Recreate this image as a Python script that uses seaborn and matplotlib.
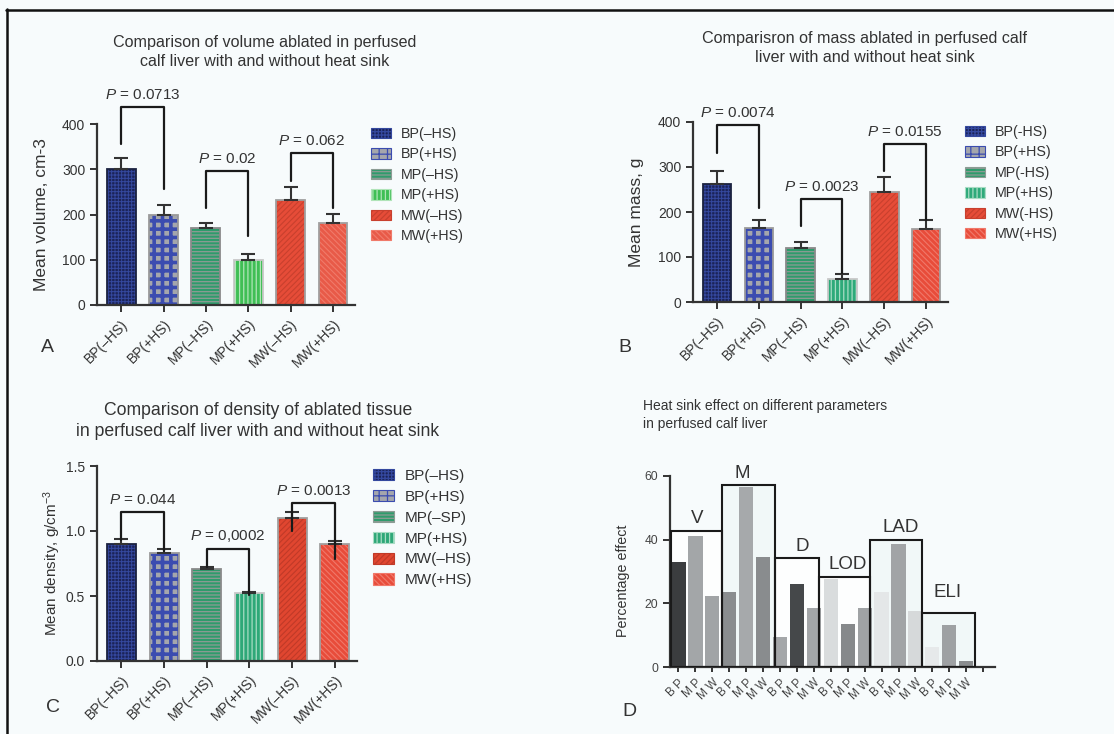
import seaborn as sns
import matplotlib.pyplot as plt
import numpy as np
from matplotlib.patches import Patch, Rectangle
from matplotlib.lines import Line2D

sns.set_theme(style='white')
plt.rcParams['font.family'] = ['Liberation Sans', 'DejaVu Sans']
plt.rcParams['mathtext.fontset'] = 'custom'
plt.rcParams['mathtext.rm'] = 'Liberation Sans'
plt.rcParams['mathtext.it'] = 'Liberation Sans:italic'
plt.rcParams['hatch.linewidth'] = 0.9

W, H = 1114, 734
BG = '#f7fbfc'
TXT = '#333333'

# ---- data, panels A-C ----
groups = ['BP(–HS)', 'BP(+HS)', 'MP(–HS)', 'MP(+HS)', 'MW(–HS)', 'MW(+HS)']
legend_a = ['BP(–HS)', 'BP(+HS)', 'MP(–HS)', 'MP(+HS)', 'MW(–HS)', 'MW(+HS)']
legend_b = ['BP(-HS)', 'BP(+HS)', 'MP(-HS)', 'MP(+HS)', 'MW(-HS)', 'MW(+HS)']
legend_c = ['BP(–HS)', 'BP(+HS)', 'MP(–SP)', 'MP(+HS)', 'MW(–HS)', 'MW(+HS)']

vol_mean = [300, 200, 170, 100, 232, 181]
vol_err = [25, 22, 12, 12, 28, 21]
mass_mean = [262, 164, 120, 51, 244, 162]
mass_err = [29, 18, 13, 11, 34, 20]
dens_mean = [0.90, 0.83, 0.71, 0.52, 1.10, 0.90]
dens_err = [0.035, 0.03, 0.012, 0.012, 0.045, 0.02]

# p-value brackets: pairs of bars, bracket top, left/right leg ends, label
p_pairs = [(0, 1), (2, 3), (4, 5)]
vol_p = ['0.0713', '0.02', '0.062']
vol_top = [437, 296, 336]
vol_leg = [(356, 256), (214, 152), (274, 214)]
mass_p = ['0.0074', '0.0023', '0.0155']
mass_top = [393, 229, 351]
mass_leg = [(331, 209), (169, 64), (291, 182)]
dens_p = ['0.044', '0,0002', '0.0013']
dens_top = [1.146, 0.86, 1.215]
dens_leg = [(0.93, 0.85), (0.72, 0.51), (1.0, 0.785)]

# ---- data, panel D ----
d_params = ['V', 'M', 'D', 'LOD', 'LAD', 'ELI']
d_methods = ['B P', 'M P', 'M W']
d_effect = [33.0, 41.3, 22.4, 23.5, 56.6, 34.5, 9.5, 26.2, 18.5,
            27.5, 13.5, 18.5, 23.5, 38.6, 17.6, 6.4, 13.3, 1.8]
d_grays = ['#3b3d3f', '#a3a6a8', '#a1a4a6', '#8a8d8f', '#a6a9ab', '#898c8e',
           '#a4a7a9', '#45484a', '#a3a6a8', '#d9dcdd', '#86898b', '#a0a3a5',
           '#e4e7e8', '#a1a4a6', '#d6d9da', '#e6e9ea', '#9ea1a3', '#8a8d8f']
d_box_top = [42.8, 57.3, 34.2, 28.4, 39.9, 16.9]
d_box_edge = [-0.45, 2.6, 5.7, 8.3, 11.3, 14.4, 17.5]
d_box_fill = ['#fdfefe', '#f1f8f8', '#fdfefe', '#fdfefe', '#f1f8f8', '#f1f8f8']
d_label_x = [1.08, 3.74, 7.3, 10.0, 13.1, 15.9]
d_label_y = [44.1, 58.2, 35.2, 29.5, 41.3, 20.6]

# bar styles: face, hatch, hatch colour, edge colour, hatch width
style_a = [('#1b2358', '+++++', '#34489e', '#1b2240', 0.7),
           ('#a4a6ac', '++', '#3b4cb0', '#9a9a9a', 2.6),
           ('#2f9b6c', '-----', '#8c9c94', '#8a8a8a', 0.9),
           ('#3fbf55', '||||', '#b0e4b8', '#c8c8c8', 0.9),
           ('#e64c38', '//////', '#c8402e', '#a0a0a0', 0.8),
           ('#e85a48', '\\\\\\\\\\\\', '#f07a6a', '#a0a0a0', 0.8)]
style_b = list(style_a)
style_b[3] = ('#2eaa7a', '||||', '#a8dcc4', '#c8c8c8', 0.9)
style_b[5] = ('#e84c3a', '\\\\\\\\\\\\', '#f0786a', '#a0a0a0', 0.8)
style_c = list(style_b)
style_c[3] = ('#2ea878', '||||', '#a8dcc4', '#c8c8c8', 0.9)
style_c[4] = ('#e04630', '//////', '#c03a28', '#a0a0a0', 0.8)


def px_box(l, t, r, b):
    return [l / W, 1 - b / H, (r - l) / W, (b - t) / H]


def set_hatch_width(p, w):
    if hasattr(p, 'set_hatch_linewidth'):
        p.set_hatch_linewidth(w)


def style_axis(ax):
    ax.set_facecolor('none')
    sns.despine(ax=ax)
    for s in ['left', 'bottom']:
        ax.spines[s].set_color(TXT)
        ax.spines[s].set_linewidth(1.6)
    ax.tick_params(axis='both', direction='out', length=5, width=1.4,
                   color=TXT, labelcolor=TXT, bottom=True, left=True)


def bar_panel(ax, means, errs, styles, ylim, yticks, ptext, ptop, pleg, legend_labels,
              leg_xy, leg_fs, tick_fs=10):
    sns.barplot(x=groups, y=means, hue=groups, palette=[s[0] for s in styles],
                legend=False, ax=ax, width=0.68, saturation=1, linewidth=0)
    for p, s in zip(ax.patches, styles):
        p.set_hatch(s[1])
        p.set_edgecolor(s[2])
        p.set_linewidth(0)
        set_hatch_width(p, s[4])
        ax.add_patch(Rectangle(p.get_xy(), p.get_width(), p.get_height(),
                               fill=False, edgecolor=s[3], lw=1.3, zorder=2))
    ax.errorbar(x=np.arange(len(means)), y=means,
                yerr=[np.zeros(len(means)), errs], fmt='none',
                ecolor=TXT, elinewidth=1.5, capsize=4.7, capthick=1.5, zorder=3)
    style_axis(ax)
    ax.set_ylim(*ylim)
    ax.set_yticks(yticks)
    ax.set_xlim(-0.57, 5.52)
    ax.set_xlabel('')
    ax.set_ylabel('')
    ax.tick_params(axis='y', labelsize=10)
    ax.set_xticks(range(len(groups)))
    ax.set_xticklabels(groups, rotation=45, ha='right', rotation_mode='anchor',
                       fontsize=tick_fs)
    for (i, j), lab, top, (l0, l1) in zip(p_pairs, ptext, ptop, pleg):
        ax.plot([i, i, j, j], [l0, top, top, l1], color='#1a1a1a', lw=1.6,
                clip_on=False, zorder=4)
        ax.annotate('$P$ = ' + lab, xy=((i + j) / 2, top), xytext=(0, 3.5),
                    textcoords='offset points', ha='center', va='bottom',
                    fontsize=11, color=TXT, annotation_clip=False)
    handles = []
    for s in styles:
        h = Patch(facecolor=s[0], hatch=s[1], edgecolor=s[2], lw=0.8)
        set_hatch_width(h, s[4])
        handles.append(h)
    ax.legend(handles, legend_labels, loc='upper left',
              bbox_to_anchor=(leg_xy[0] / W, 1 - leg_xy[1] / H),
              bbox_transform=ax.figure.transFigure, frameon=False,
              fontsize=leg_fs, handlelength=1.4, handleheight=0.75,
              handletextpad=0.7, labelspacing=0.45, borderpad=0, borderaxespad=0,
              labelcolor=TXT)


fig = plt.figure(figsize=(W / 100, H / 100), dpi=100, facecolor=BG)

# ---- A ----
axA = fig.add_axes(px_box(97, 124, 355, 305))
bar_panel(axA, vol_mean, vol_err, style_a, (0, 400), [0, 100, 200, 300, 400],
          vol_p, vol_top, vol_leg, legend_a, (371, 127), 10.3)
fig.text(265 / W, 1 - 52 / H, 'Comparison of volume ablated in perfused\ncalf liver with and without heat sink',
         ha='center', va='center', fontsize=11.6, color=TXT, linespacing=1.25)
fig.text(42 / W, 1 - 215 / H, 'Mean volume, cm-3', rotation=90, ha='center', va='center',
         fontsize=12.5, color=TXT)

# ---- B ----
axB = fig.add_axes(px_box(693, 122, 948, 302))
bar_panel(axB, mass_mean, mass_err, style_b, (0, 400), [0, 100, 200, 300, 400],
          mass_p, mass_top, mass_leg, legend_b, (965, 125), 10.3)
fig.text(865 / W, 1 - 48 / H, 'Comparisron of mass ablated in perfused calf\nliver with and without heat sink',
         ha='center', va='center', fontsize=11.6, color=TXT, linespacing=1.25)
fig.text(637 / W, 1 - 212 / H, 'Mean mass, g', rotation=90, ha='center', va='center',
         fontsize=12.5, color=TXT)

# ---- C ----
axC = fig.add_axes(px_box(97, 466, 357, 661))
bar_panel(axC, dens_mean, dens_err, style_c, (0, 1.5), [0.0, 0.5, 1.0, 1.5],
          dens_p, dens_top, dens_leg, legend_c, (373, 469), 11)
axC.set_yticklabels(['0.0', '0.5', '1.0', '1.5'])
fig.text(258 / W, 1 - 421 / H, 'Comparison of density of ablated tissue\nin perfused calf liver with and without heat sink',
         ha='center', va='center', fontsize=12.7, color=TXT, linespacing=1.25)
fig.text(52 / W, 1 - 563 / H, 'Mean density, g/cm$^{-3}$', rotation=90, ha='center', va='center',
         fontsize=11, color=TXT)

# ---- D ----
axD = fig.add_axes(px_box(670, 476, 995, 667))
slots = list(range(len(d_effect)))
for k, (x0, x1) in enumerate(zip(d_box_edge[:-1], d_box_edge[1:])):
    axD.add_patch(Rectangle((x0, 0), x1 - x0, d_box_top[k], facecolor=d_box_fill[k],
                            edgecolor='none', zorder=0.5))
sns.barplot(x=slots, y=d_effect, hue=slots, palette=d_grays, legend=False, ax=axD,
            width=0.84, saturation=1, linewidth=0, zorder=1)
for k, (x0, x1) in enumerate(zip(d_box_edge[:-1], d_box_edge[1:])):
    axD.add_patch(Rectangle((x0, 0), x1 - x0, d_box_top[k], fill=False,
                            edgecolor='#1a1a1a', lw=1.5, zorder=3))
    axD.text(d_label_x[k], d_label_y[k], d_params[k], ha='center', va='bottom',
             fontsize=13.5, color=TXT)
style_axis(axD)
axD.set_xlim(-0.5, 18.7)
axD.set_ylim(0, 60)
axD.set_yticks([0, 20, 40, 60])
axD.set_xticks(range(len(d_effect) + 1))
axD.set_xticklabels(d_methods * len(d_params) + [''], rotation=45, ha='right',
                    rotation_mode='anchor', fontsize=8.5)
axD.tick_params(axis='y', labelsize=8.7, labelcolor='#444444')
axD.tick_params(axis='x', length=3.5, labelcolor='#444444')
axD.set_xlabel('')
axD.set_ylabel('')
fig.text(643 / W, 1 - 415 / H, 'Heat sink effect on different parameters\nin perfused calf liver',
         ha='left', va='center', fontsize=10, color=TXT, linespacing=1.3)
fig.text(623 / W, 1 - 581 / H, 'Percentage effect', rotation=90, ha='center', va='center',
         fontsize=10.3, color=TXT)

# panel letters
for lab, (x, y) in zip('ABCD', [(47, 348), (625, 348), (53, 708), (629, 712)]):
    fig.text(x / W, 1 - y / H, lab, ha='center', va='center', fontsize=14, color=TXT)

# frame on left and top
fig.add_artist(Line2D([7 / W, 7 / W], [0, 1 - 9 / H], color='#111111', lw=1.8))
fig.add_artist(Line2D([6 / W, 1], [1 - 9.5 / H, 1 - 9.5 / H], color='#111111', lw=1.8))

fig.savefig('out.png', dpi=100, facecolor=BG)
